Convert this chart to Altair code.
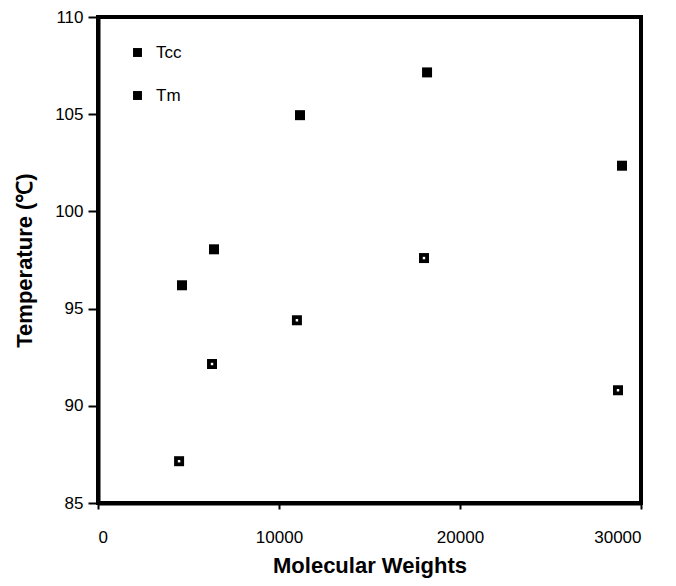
import altair as alt
import pandas as pd

series_names = ["Tcc", "Tm"]
tcc_mw = [4640, 6410, 11160, 18180, 28950]
tcc_temp = [96.2, 98.05, 104.95, 107.15, 102.35]
tm_mw = [4480, 6300, 10990, 18010, 28730]
tm_temp = [87.15, 92.15, 94.4, 97.6, 90.8]
x_ticks = [0, 10000, 20000, 30000]
y_ticks = [85, 90, 95, 100, 105, 110]

df = pd.DataFrame({
    "mw": tcc_mw + tm_mw,
    "temp": tcc_temp + tm_temp,
    "series": [series_names[0]] * len(tcc_mw) + [series_names[1]] * len(tm_mw),
})
df_tm = df[df["series"] == "Tm"]

x_enc = alt.X("mw:Q", title="Molecular Weights",
              scale=alt.Scale(domain=[0, 30000], nice=False, zero=False),
              axis=alt.Axis(values=x_ticks, format="d", grid=False,
                            tickSize=6, tickWidth=2, tickColor="black",
                            domainColor="black", domainWidth=4,
                            labelFontSize=17, labelPadding=20,
                            labelFont="Liberation Sans", labelColor="black",
                            titleFont="Liberation Sans", titleFontSize=22,
                            titleFontWeight="bold", titleColor="black", titlePadding=10))
y_enc = alt.Y("temp:Q", title="Temperature (℃)",
              scale=alt.Scale(domain=[85, 110], nice=False, zero=False),
              axis=alt.Axis(values=y_ticks, grid=False,
                            tickSize=10, tickWidth=2, tickColor="black",
                            domainColor="black", domainWidth=4,
                            labelFontSize=17, labelPadding=5,
                            labelFont="Liberation Sans", labelColor="black",
                            titleFont="Liberation Sans", titleFontSize=22,
                            titleFontWeight="bold", titleColor="black", titlePadding=18))

base = alt.Chart(df).mark_point(shape="square", filled=True, size=100, opacity=1).encode(
    x=x_enc,
    y=y_enc,
    color=alt.Color("series:N",
                    scale=alt.Scale(domain=series_names, range=["black", "black"]),
                    legend=alt.Legend(title=None, orient="none", legendX=31, legendY=27,
                                      symbolType="square", symbolSize=80,
                                      labelFontSize=17, labelFont="Liberation Sans",
                                      labelColor="black", rowPadding=25, labelOffset=10)),
)

dots = alt.Chart(df_tm).mark_point(shape="square", filled=True, size=6, color="white", opacity=1).encode(
    x="mw:Q", y="temp:Q"
)

chart = alt.layer(base, dots).properties(
    width=543, height=486,
    padding={"left": 90, "top": 9, "right": 27, "bottom": 75},
    autosize=alt.AutoSizeParams(type="none"),
).configure_view(stroke="black", strokeWidth=4)

chart.save("out.html", embed_options={"renderer": "svg", "actions": False})
